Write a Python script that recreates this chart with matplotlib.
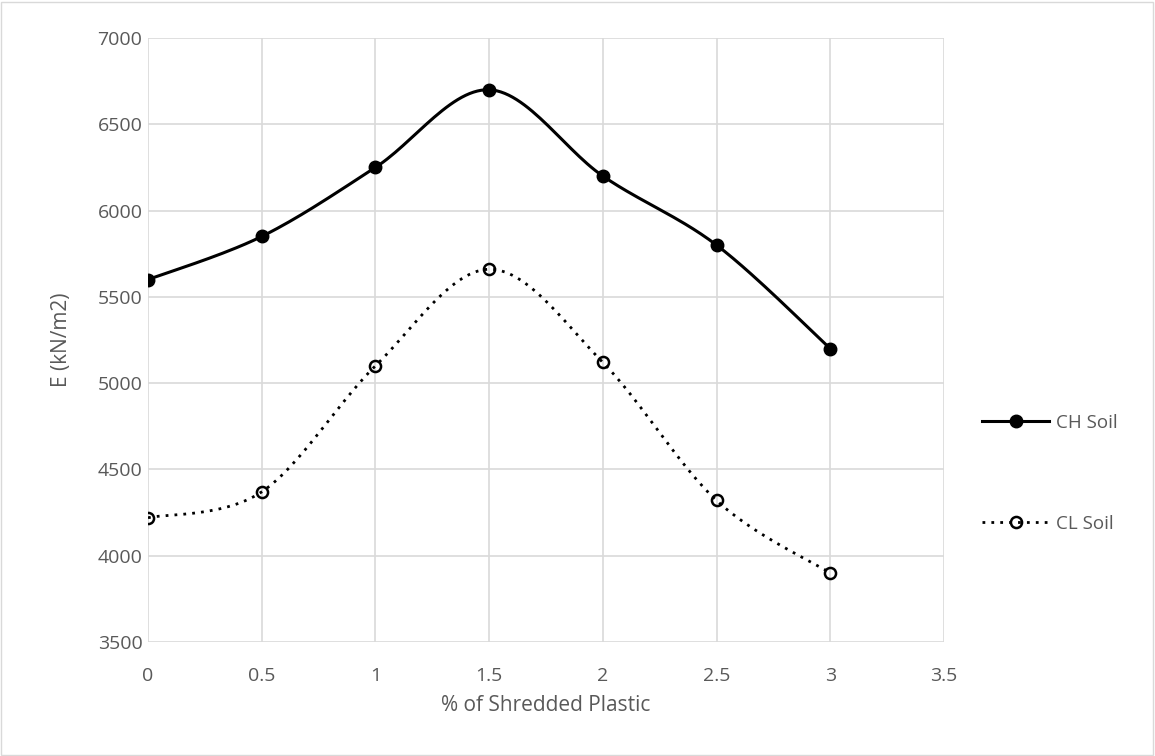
import numpy as np
import matplotlib.pyplot as plt
from matplotlib.lines import Line2D

plt.rcParams['font.family'] = ['Open Sans', 'DejaVu Sans']

pct = [0, 0.5, 1, 1.5, 2, 2.5, 3]
ch_soil = [5600, 5850, 6250, 6700, 6200, 5800, 5200]
cl_soil = [4220, 4370, 5100, 5660, 5120, 4320, 3900]


def smooth(x, y, n=30):
    # Excel-like smoothed line: cubic bezier with catmull-rom control points
    x = np.asarray(x, float)
    y = np.asarray(y, float)
    px = np.concatenate([[x[0]], x, [x[-1]]])
    py = np.concatenate([[y[0]], y, [y[-1]]])
    xs, ys = [], []
    t = np.linspace(0, 1, n)
    for i in range(1, len(px) - 2):
        p0 = np.array([px[i], py[i]])
        p3 = np.array([px[i + 1], py[i + 1]])
        c1 = p0 + (np.array([px[i + 1], py[i + 1]]) - np.array([px[i - 1], py[i - 1]])) / 6
        c2 = p3 - (np.array([px[i + 2], py[i + 2]]) - np.array([px[i], py[i]])) / 6
        b = ((1 - t) ** 3)[:, None] * p0 + (3 * (1 - t) ** 2 * t)[:, None] * c1 \
            + (3 * (1 - t) * t ** 2)[:, None] * c2 + (t ** 3)[:, None] * p3
        xs.extend(b[:, 0])
        ys.extend(b[:, 1])
    return xs, ys


fig = plt.figure(figsize=(11.55, 7.56), dpi=100)
ax = fig.add_axes([148 / 1155, 1 - 642 / 756, (944 - 148) / 1155, (642 - 38) / 756])

grey = '#595959'
grid = '#d9d9d9'

sx, sy = smooth(pct, ch_soil)
ax.plot(sx, sy, color='black', lw=2.2, zorder=3)
ax.plot(pct, ch_soil, 'o', color='black', ms=9, zorder=4)

sx, sy = smooth(pct, cl_soil)
ax.plot(sx, sy, color='black', lw=2, ls=(0, (1, 2.2)), zorder=3)
ax.plot(pct, cl_soil, 'o', mfc='none', mec='black', mew=1.8, ms=8, zorder=4)

ax.set_xlim(0, 3.5)
ax.set_ylim(3500, 7000)
ax.set_xticks(np.arange(0, 3.51, 0.5))
ax.set_xticklabels(['0', '0.5', '1', '1.5', '2', '2.5', '3', '3.5'])
ax.set_yticks(np.arange(3500, 7001, 500))
ax.grid(True, color=grid, lw=1.2)
ax.set_axisbelow(True)
for s in ax.spines.values():
    s.set_visible(False)
ax.tick_params(length=0, labelsize=14, colors=grey)
ax.tick_params(axis='x', pad=18)
ax.tick_params(axis='y', pad=4)
ax.set_xlabel('% of Shredded Plastic', fontsize=15, color=grey, labelpad=7)
ax.set_ylabel('E (kN/m2)', fontsize=15, color=grey, labelpad=18)

handles = [
    Line2D([], [], color='black', lw=2.2, marker='o', ms=9),
    Line2D([], [], color='black', lw=2, ls=(0, (1, 2.2)), marker='o', mfc='none', mew=1.8, ms=8),
]
fig.legend(handles, ['CH Soil', 'CL Soil'], loc='center left', bbox_to_anchor=(0.850, 0.374),
           frameon=False, fontsize=13.5, labelcolor=grey, handlelength=3.6, handletextpad=0.35,
           labelspacing=4.4, borderpad=0, borderaxespad=0)

fig.patches.append(plt.Rectangle((0.001, 0.001), 0.997, 0.997, transform=fig.transFigure,
                                 fill=False, edgecolor=grid, lw=1))

fig.savefig('out.png', dpi=100)
